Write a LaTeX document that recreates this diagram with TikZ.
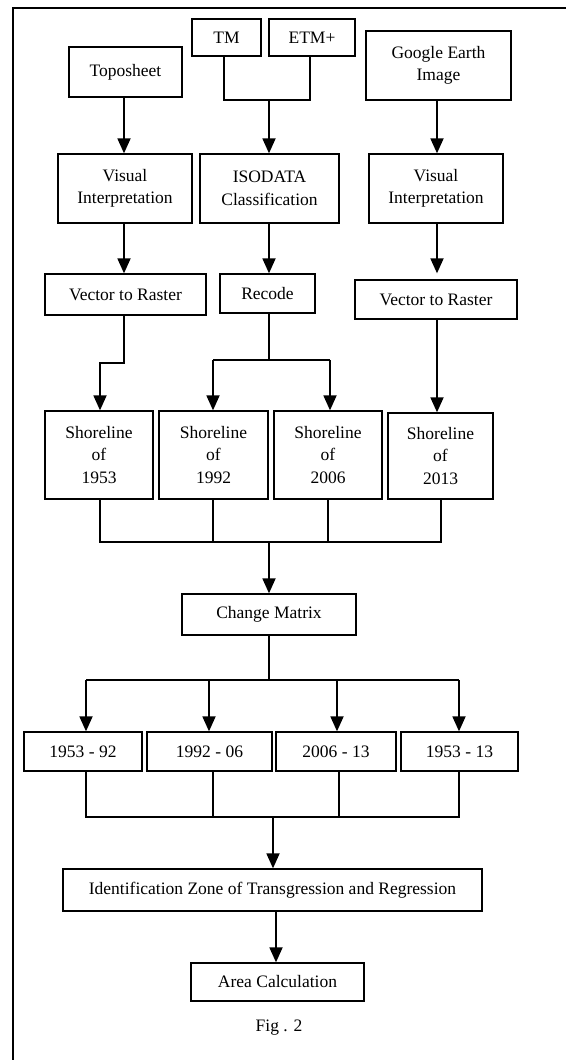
\documentclass[tikz,border=0pt]{standalone}
\usepackage{fontspec}
\setmainfont{Liberation Serif}
\usetikzlibrary{arrows.meta,calc}
\begin{document}
\begin{tikzpicture}[x=1pt,y=-1pt,
  box/.style={draw,line width=1.3pt,inner sep=0pt,align=center,font=\fontsize{17.5}{22.5}\selectfont},
  conn/.style={line width=1.8pt},
  arr/.style={conn,-{Triangle[length=15pt,width=13pt]}}]
\useasboundingbox (0,0) rectangle (566,1060);
\draw[line width=1.8pt] (13,1060) -- (13,8) -- (566,8);
% nodes
\node[box,minimum width=113pt,minimum height=50pt] (topo) at (125.5,72) {Toposheet};
\node[box,minimum width=69pt,minimum height=37pt] (tm) at (226.5,37.5) {TM};
\node[box,minimum width=86pt,minimum height=37pt] (etm) at (312,37.5) {ETM+};
\node[box,minimum width=145pt,minimum height=69pt] (ge) at (438.5,65.5) {Google Earth\\Image};
\node[box,minimum width=134pt,minimum height=69pt] (vi1) at (125,188.5) {Visual\\Interpretation};
\node[box,minimum width=139pt,minimum height=69pt] (iso) at (269.5,188.5) {ISODATA\\Classification};
\node[box,minimum width=134pt,minimum height=69pt] (vi2) at (436,188.5) {Visual\\Interpretation};
\node[box,minimum width=161pt,minimum height=41pt] (vr1) at (125.5,294.5) {Vector to Raster};
\node[box,minimum width=95pt,minimum height=39pt] (rec) at (267.5,293.5) {Recode};
\node[box,minimum width=162pt,minimum height=39pt] (vr2) at (436,299.5) {Vector to Raster};
\node[box,minimum width=108pt,minimum height=88pt] (s1) at (99,455) {Shoreline\\of\\1953};
\node[box,minimum width=109pt,minimum height=88pt] (s2) at (213.5,455) {Shoreline\\of\\1992};
\node[box,minimum width=108pt,minimum height=88pt] (s3) at (328,455) {Shoreline\\of\\2006};
\node[box,minimum width=105pt,minimum height=86pt] (s4) at (440.5,456) {Shoreline\\of\\2013};
\node[box,minimum width=174pt,minimum height=41pt] (cm) at (269,614.5) {Change Matrix};
\node[box,minimum width=118pt,minimum height=39pt] (p1) at (83,751.5) {1953 - 92};
\node[box,minimum width=125pt,minimum height=39pt] (p2) at (209.5,751.5) {1992 - 06};
\node[box,minimum width=120pt,minimum height=39pt] (p3) at (336,751.5) {2006 - 13};
\node[box,minimum width=117pt,minimum height=39pt] (p4) at (459.5,751.5) {1953 - 13};
\node[box,minimum width=419pt,minimum height=42pt] (id) at (272.5,890) {Identification Zone of Transgression and Regression};
\node[box,minimum width=173pt,minimum height=38pt] (area) at (277.5,982) {Area Calculation};
\node[font=\fontsize{17.5}{22}\selectfont] (fig) at (279,1028) {Fig . 2};
% junction coordinates
\coordinate (j1) at (269,100);
\coordinate (j2) at (124,363);
\coordinate (j3) at (269,360);
\coordinate (j4) at (269,542);
\coordinate (j5) at (269,680);
\coordinate (j6) at (273,817);
% connectors
\draw[arr] (topo.south -| 124,0) -- (vi1.north -| 124,0);
\draw[conn] (tm.south -| 224,0) |- (j1) -| (etm.south -| 310,0);
\draw[arr] (j1) -- (iso.north -| j1);
\draw[arr] (ge.south -| 437,0) -- (vi2.north -| 437,0);
\draw[arr] (vi1.south -| 124,0) -- (vr1.north -| 124,0);
\draw[arr] (iso.south -| j1) -- (rec.north -| j1);
\draw[arr,shorten >=6pt] (vi2.south -| 437,0) -- (vr2.north -| 437,0);
\draw[arr] (vr1.south -| j2) -- (j2) -| (s1.north -| 100,0);
\draw[conn] (rec.south -| j3) -- (j3);
\draw[conn] (213,360) -- (330,360);
\draw[arr] (213,360) -- (s2.north -| 213,0);
\draw[arr] (330,360) -- (s3.north -| 330,0);
\draw[arr] (vr2.south -| 437,0) -- (s4.north -| 437,0);
\draw[conn] (s1.south -| 100,0) |- (j4) -| (s4.south -| 441,0);
\draw[conn] (s2.south -| 213,0) -- (213,542);
\draw[conn] (s3.south -| 328,0) -- (328,542);
\draw[arr] (j4) -- (cm.north -| j4);
\draw[conn] (cm.south -| j5) -- (j5);
\draw[conn] (86,680) -- (459,680);
\draw[arr] (86,680) -- (p1.north -| 86,0);
\draw[arr] (209,680) -- (p2.north -| 209,0);
\draw[arr] (337,680) -- (p3.north -| 337,0);
\draw[arr] (459,680) -- (p4.north -| 459,0);
\draw[conn] (p1.south -| 86,0) |- (j6) -| (p4.south -| 459,0);
\draw[conn] (p2.south -| 213,0) -- (213,817);
\draw[conn] (p3.south -| 339,0) -- (339,817);
\draw[arr] (j6) -- (id.north -| j6);
\draw[arr] (id.south -| 276,0) -- (area.north -| 276,0);
\end{tikzpicture}
\end{document}
